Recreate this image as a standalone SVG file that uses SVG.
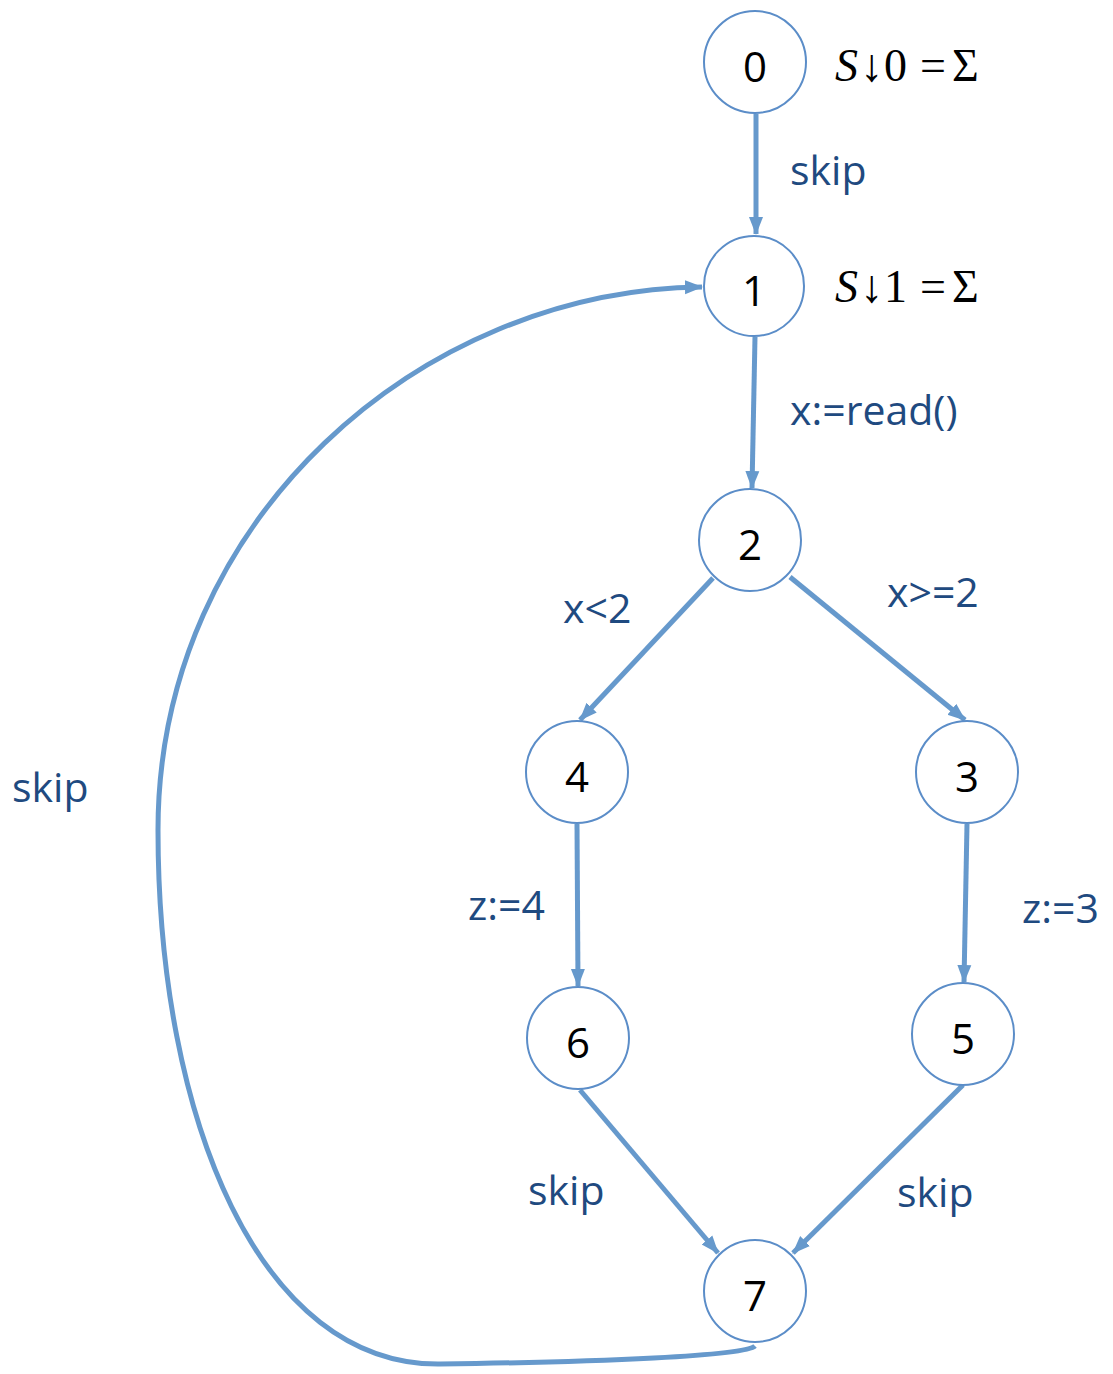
<svg xmlns="http://www.w3.org/2000/svg" width="1113" height="1374" viewBox="0 0 1113 1374">
<defs>
<marker id="ah" markerWidth="18" markerHeight="16" refX="17" refY="8" orient="auto" markerUnits="userSpaceOnUse" viewBox="0 0 18 16">
<path d="M0,1 L18,8 L0,15 z" fill="#6699CC"/>
</marker>
<style>
.node circle{fill:#fff;stroke:#5B8DC8;stroke-width:2}
.node text{font-family:"Open Sans","Liberation Sans",sans-serif;font-size:42px;fill:#000;text-anchor:middle}
.edge{fill:none;stroke:#6699CC;stroke-width:5;marker-end:url(#ah)}
.lbl{font-family:"Open Sans","Liberation Sans",sans-serif;font-size:41px;fill:#1F4A80}
.math{font-family:"Liberation Serif","DejaVu Serif",serif;font-size:46px;fill:#000}
</style>
</defs>
<g id="connectors">
<line class="edge" x1="756" y1="114" x2="756" y2="234"/>
<line class="edge" x1="755" y1="337" x2="752" y2="488"/>
<line class="edge" x1="713" y1="578" x2="580" y2="720"/>
<line class="edge" x1="790" y1="577" x2="965" y2="720"/>
<line class="edge" x1="577" y1="824" x2="578" y2="986"/>
<line class="edge" x1="967" y1="824" x2="964" y2="982"/>
<line class="edge" x1="580" y1="1090" x2="718" y2="1253"/>
<line class="edge" x1="963" y1="1085" x2="793" y2="1253"/>
<path class="edge" d="M755,1346 C745,1356 600,1362 440,1364 C260,1366 158,1120 158,830 C158,520 420,290 702,287"/>
</g>
<g id="node0" class="node"><circle cx="755" cy="62" r="51"/><text x="755" y="82">0</text></g>
<g id="node1" class="node"><circle cx="754" cy="286" r="50"/><text x="754" y="306">1</text></g>
<g id="node2" class="node"><circle cx="750" cy="540" r="51"/><text x="750" y="560">2</text></g>
<g id="node4" class="node"><circle cx="577" cy="772" r="51"/><text x="577" y="792">4</text></g>
<g id="node3" class="node"><circle cx="967" cy="772" r="51"/><text x="967" y="792">3</text></g>
<g id="node6" class="node"><circle cx="578" cy="1038" r="51"/><text x="578" y="1058">6</text></g>
<g id="node5" class="node"><circle cx="963" cy="1034" r="51"/><text x="963" y="1054">5</text></g>
<g id="node7" class="node"><circle cx="755" cy="1291" r="51"/><text x="755" y="1311">7</text></g>
<g id="labels">
<text class="math" y="81"><tspan x="835" font-style="italic">S</tspan><tspan x="860">↓</tspan><tspan x="884">0</tspan><tspan x="920">=</tspan><tspan x="952">Σ</tspan></text>
<text class="math" y="302"><tspan x="835" font-style="italic">S</tspan><tspan x="860">↓</tspan><tspan x="884">1</tspan><tspan x="920">=</tspan><tspan x="952">Σ</tspan></text>
<text class="lbl" x="790" y="185">skip</text>
<text class="lbl" x="790" y="425">x:=read()</text>
<text class="lbl" x="563" y="623">x&lt;2</text>
<text class="lbl" x="887" y="607">x&gt;=2</text>
<text class="lbl" x="12" y="802">skip</text>
<text class="lbl" x="468" y="920">z:=4</text>
<text class="lbl" x="1022" y="923">z:=3</text>
<text class="lbl" x="528" y="1205">skip</text>
<text class="lbl" x="897" y="1207">skip</text>
</g>
</svg>
